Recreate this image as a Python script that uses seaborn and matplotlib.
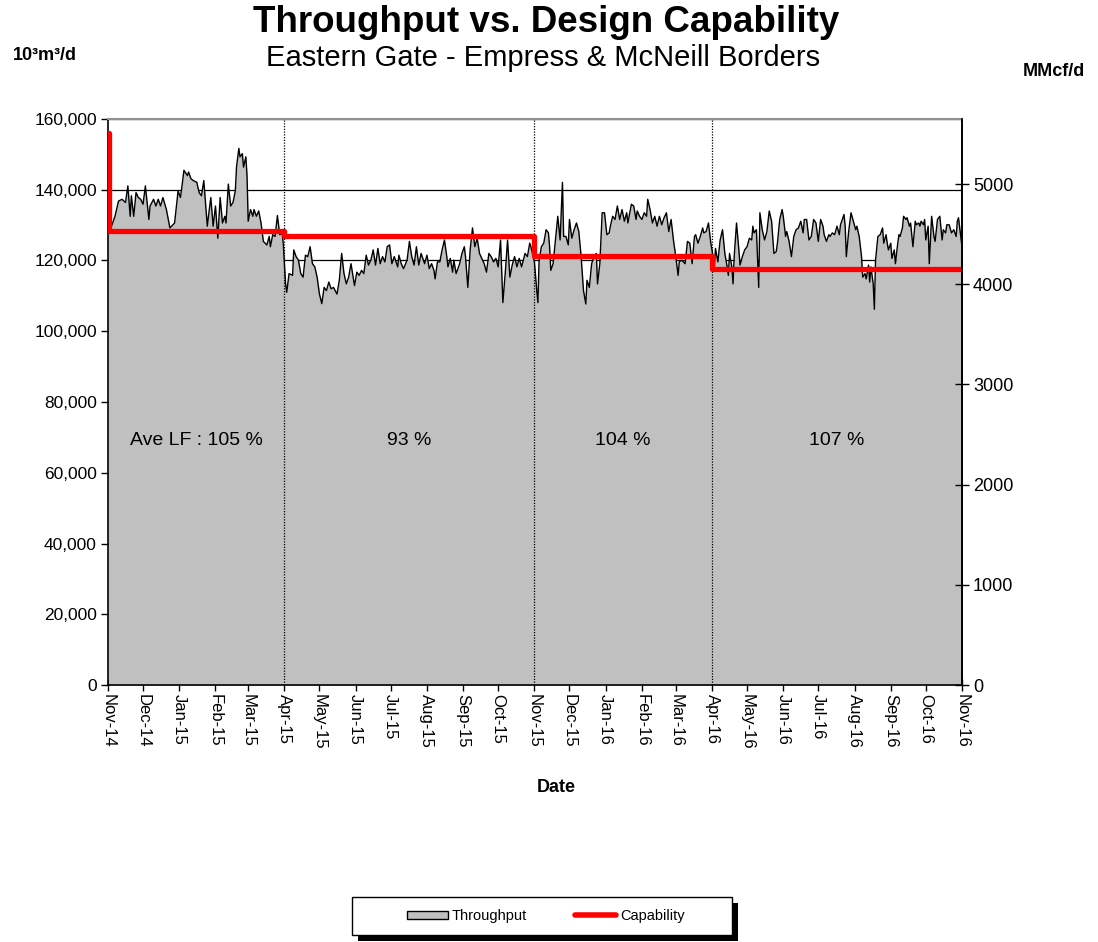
import pandas as pd
import matplotlib
matplotlib.use('Agg')
import matplotlib.pyplot as plt
import matplotlib.dates as mdates
import matplotlib.ticker as mticker
from matplotlib.patches import Patch, Rectangle
from matplotlib.lines import Line2D
import seaborn as sns

# Daily throughput (10^3 m3/d); day 0 = 1 Nov 2014
start = pd.Timestamp('2014-11-01')

days = [0, 3, 6, 9, 12, 15, 17, 19, 20, 22, 24, 26, 28, 30, 32, 35, 36, 39, 41, 43,
        45, 47, 50, 53, 57, 60, 62, 63, 65, 68, 69, 71, 73, 76, 78, 80, 82, 85, 86, 88,
        90, 92, 94, 96, 98, 100, 101, 103, 105, 107, 109, 110, 112, 113, 115, 116, 118, 119, 120, 122,
        124, 125, 127, 129, 131, 133, 136, 138, 139, 141, 143, 145, 147, 149, 150, 152, 153, 155,
        158, 159, 161, 163, 165, 167, 169, 171, 173, 175, 177, 179, 181, 183, 185, 187, 189, 191, 193, 196,
        198, 200, 202, 204, 206, 208, 211, 213, 215, 217, 219, 221, 223, 225, 227, 229, 231, 233, 235, 237,
        239, 241, 243, 245, 248, 249, 251, 253, 256, 258, 260, 262, 264, 266, 268, 271, 273, 275, 277, 279,
        280, 282, 284, 286, 288, 290, 291, 293, 295, 296, 298, 301, 303, 305, 306, 308, 310, 312, 314, 316, 318,
        322, 324, 326, 328, 330, 332, 334, 336, 338, 340, 342, 344, 346, 348, 350, 352, 354, 357, 359, 361,
        362, 364, 365, 367, 368, 369, 371, 373, 375, 377, 378, 379, 381, 383, 385, 387, 389, 390, 392, 394,
        395, 397, 399, 401, 403, 405, 407, 409, 410, 412, 414, 416, 418, 419, 421, 423, 425, 427, 429, 430,
        432, 434, 436, 438, 440, 442, 444, 445, 448, 450, 452, 453, 455, 457, 459, 461, 462, 464, 466, 468,
        470, 472, 474, 476, 478, 480, 482,
        484, 486, 488, 489, 491, 494, 496, 498, 500, 502, 503, 505, 507, 509, 510, 512, 514, 516, 517, 519,
        520, 522, 524, 526, 528, 530, 531, 532, 534, 535, 536, 538, 540, 541, 543, 545, 547, 549, 551, 552,
        553, 555, 557, 558, 560, 562, 564, 566, 568, 570, 572, 573, 575, 577, 578, 580, 581, 583, 585, 587,
        589, 591, 593, 595, 596, 598, 600, 602, 604, 606, 608, 610, 612, 613, 615, 617, 618, 620, 622, 624,
        626, 627,
        630, 631, 632, 634, 636, 638, 640, 641, 643, 645, 646, 648, 649, 651, 652, 653, 655, 656, 657, 659,
        661, 663, 664, 666, 667, 668, 670, 671, 673, 674, 676, 677, 678, 680, 681, 683, 684, 686, 687, 689,
        691, 692, 694, 695, 696, 698, 699, 700, 702, 703, 705, 707, 708, 710, 712, 714, 715, 717, 718, 720,
        722, 724, 726, 727, 728, 730, 731]

throughput = [129000, 129700, 132500, 136800, 137300, 136400, 141100, 132500, 138300, 132500,
              139200, 137800, 137300, 135900, 141100, 131600, 135400, 137300, 135400, 137300,
              135400, 137800, 134400, 129200, 130600, 139700, 137800, 140200, 145500, 144000,
              145000, 143100, 142600, 142100, 139200, 138300, 142600, 129700, 132500, 137800,
              129700, 135400, 126300, 137800, 130600, 132500, 130600, 141600, 135400, 136400,
              139700, 146400, 151700, 149300, 150200, 146400, 149300, 144000, 131100, 134400,
              132500, 134400, 132500, 134000, 130600, 125400, 124400, 126800, 123900, 127300,
              126800, 132700, 127300, 127800, 124900, 113400, 111000, 116300,
              115800, 123000, 121100, 120100, 116300, 115300, 121500, 121100, 123900, 119100,
              118200, 115300, 110500, 107800, 112400, 111500, 113900, 112000, 112400, 110500,
              114400, 122000, 116300, 113400, 115300, 119100, 112900, 116700, 115800, 117200,
              116300, 121500, 118700, 120100, 123000, 118700, 123400, 119100, 121100, 119600,
              123900, 124400, 119100, 121100, 118200, 121500, 119100, 117700, 120100, 125400,
              121100, 118700, 123900, 118700, 122000, 119100, 121500, 117700, 119100, 117200,
              114800, 119600, 119600, 123000, 125800, 121100, 118200, 120600, 116700, 120100,
              116300, 119100, 122000, 123900, 121100, 112400, 123000, 129200, 123900, 126300, 122000,
              119100, 116700, 122000, 121100, 119600, 120600, 118200, 125800, 108100, 116300,
              125800, 115300, 118700, 121100, 118200, 120600, 118200, 122000, 121100, 124900,
              123900, 121100, 119600, 111500, 108100, 120100, 123900, 124900, 128700, 127800,
              123900, 117200, 119100, 125800, 132500, 125800, 142100, 126800, 126800, 124400,
              131600, 126300, 128700, 130600, 128200, 121100, 111500, 107700, 114400, 112400,
              119100, 121100, 122000, 113400, 119100, 133500, 133500, 127300, 127800, 129700,
              132500, 131600, 135400, 131600, 134400, 131100, 133500, 130600, 135900, 135400,
              131600, 134000, 132500, 131600, 133500, 132500, 137300, 134400, 130600, 132500,
              129700, 132500, 130100, 132100, 133500, 128200, 131600,
              125800, 121100, 115800, 119600, 120100, 119100, 125400, 124900, 119100, 126800,
              127300, 124900, 126800, 129200, 127800, 128200, 130600, 124900, 123000, 118200,
              123400, 119600, 125800, 128700, 122000, 118200, 115800, 122000, 118200, 113400,
              121100, 130600, 123000, 118700, 121100, 123000, 123900, 126300, 125800, 129700,
              127800, 128700, 112400, 133500, 128700, 125800, 128200, 134000, 131100, 122000,
              122500, 124900, 131600, 134400, 132500, 126800, 128200, 125400, 121100, 126800,
              128700, 129200, 131100, 127800, 131600, 131600, 125800, 126800, 131600, 130600,
              125400, 131600, 129700, 127300, 125400, 127300, 126800, 127800, 127300, 129700,
              127300, 130100,
              133000, 129700, 121100, 128200, 133500, 131100, 128700, 129700, 126800, 121100,
              115300, 116300, 114800, 118700, 113900, 118200, 113400, 106200, 120100, 126800,
              127300, 129200, 124900, 127300, 124900, 123000, 124900, 120600, 123000, 119100,
              124900, 127300, 126800, 129200, 132500, 131600, 132100, 129700, 130600, 123900,
              131100, 130100, 130600, 129700, 131100, 130100, 131600, 125800, 129700, 119100,
              132500, 126800, 125400, 131600, 132500, 125800, 128700, 127800, 130100, 130100,
              127800, 128700, 126800, 131100, 132100, 126800, 123900]

# Design capability, stepped (start day of each level)
cap_days = [0, 1, 151, 365, 517, 731]
capability = [156100, 128400, 127000, 121300, 117700, 117700]

# Load-factor periods
period_bounds = ['2014-11-01', '2015-04-01', '2015-11-01', '2016-04-01', '2016-11-01']
lf_labels = ['Ave LF : 105 %', '93 %', '104 %', '107 %']

M3_PER_MMCF = 28.3168  # 10^3 m3 per MMcf

assert len(days) == len(throughput)

sns.set_theme(style='white')
plt.rcParams['font.family'] = ['Liberation Sans', 'DejaVu Sans']
plt.rcParams.update({'text.color': 'black', 'axes.labelcolor': 'black',
                     'xtick.color': 'black', 'ytick.color': 'black'})

df = pd.DataFrame({'Date': start + pd.to_timedelta(days, unit='D'),
                   'Throughput': throughput})
cap = pd.DataFrame({'Date': start + pd.to_timedelta(cap_days, unit='D'),
                    'Capability': capability})

fig = plt.figure(figsize=(10.98, 9.42), dpi=100)
ax = fig.add_axes([108 / 1098, 1 - 685 / 942, 854 / 1098, 566 / 942])

# area + outline
ax.fill_between(df['Date'], df['Throughput'], color='#c0c0c0', lw=0, zorder=1)
sns.lineplot(data=df, x='Date', y='Throughput', ax=ax, color='black', lw=1.0, zorder=2)
sns.lineplot(data=cap, x='Date', y='Capability', ax=ax, color='#ff0000', lw=3.8,
             drawstyle='steps-post', zorder=4)

bounds = pd.to_datetime(period_bounds)
for b in bounds[1:-1]:
    ax.axvline(b, color='black', ls=(0, (1, 1.2)), lw=0.9, zorder=3)

for i, lab in enumerate(lf_labels):
    mid = bounds[i] + (bounds[i + 1] - bounds[i]) / 2
    ax.text(mid, 69000, lab, ha='center', va='center', fontsize=14, zorder=5)

ax.set_xlim(bounds[0], bounds[-1])
ax.set_ylim(0, 160000)
ax.set_yticks(range(0, 160001, 20000))
ax.yaxis.set_major_formatter(mticker.StrMethodFormatter('{x:,.0f}'))
ax.xaxis.set_major_locator(mdates.MonthLocator())
ax.xaxis.set_major_formatter(mdates.DateFormatter('%b-%y'))
ax.set_xlabel('')
ax.set_ylabel('')

ax.yaxis.grid(True, color='black', lw=0.9)
ax.xaxis.grid(False)
ax.set_axisbelow(True)

ax.tick_params(axis='y', left=True, direction='out', length=5, width=1,
               color='black', labelsize=12.5, pad=3)
ax.tick_params(axis='x', bottom=True, direction='inout', length=9, width=1,
               color='black', labelsize=12, labelrotation=-90, pad=2)
for t in ax.get_xticklabels():
    t.set_ha('center')
    t.set_va('top')

for s in ['left', 'bottom']:
    ax.spines[s].set_color('black')
    ax.spines[s].set_linewidth(1.2)
ax.spines['top'].set_color('#909090')
ax.spines['top'].set_linewidth(1.5)
ax.spines['right'].set_color('black')

ax2 = ax.twinx()
ax2.set_ylim(0, 160000 / M3_PER_MMCF)
ax2.set_yticks(range(0, 5001, 1000))
ax2.grid(False)
ax2.tick_params(axis='y', right=True, direction='inout', length=10, width=1,
                color='black', labelsize=13, pad=3)
ax2.spines['right'].set_color('black')
ax2.spines['right'].set_linewidth(1.2)
ax2.spines['top'].set_visible(False)
ax2.spines['left'].set_visible(False)
ax2.spines['bottom'].set_visible(False)

# titles and axis units
fig.text(546 / 1098, 1 - 22 / 942, 'Throughput vs. Design Capability',
         ha='center', va='center', fontsize=26.5, fontweight='bold')
fig.text(543 / 1098, 1 - 58 / 942, 'Eastern Gate - Empress & McNeill Borders',
         ha='center', va='center', fontsize=21)
fig.text(45 / 1098, 1 - 55 / 942, '10³m³/d', ha='center', va='center',
         fontsize=13, fontweight='bold')
fig.text(1054 / 1098, 1 - 72 / 942, 'MMcf/d', ha='center', va='center',
         fontsize=13, fontweight='bold')
fig.text(556 / 1098, 1 - 788 / 942, 'Date', ha='center', va='center',
         fontsize=13, fontweight='bold')

# legend box with hard shadow
fig.patches.append(Rectangle((358 / 1098, 1 - 941 / 942), 380 / 1098, 38 / 942,
                             transform=fig.transFigure, facecolor='black',
                             edgecolor='none', zorder=1))
fig.patches.append(Rectangle((352 / 1098, 1 - 935 / 942), 380 / 1098, 38 / 942,
                             transform=fig.transFigure, facecolor='white',
                             edgecolor='black', lw=1, zorder=2))
handles = [Patch(facecolor='#c0c0c0', edgecolor='black', lw=1),
           Line2D([], [], color='#ff0000', lw=4)]
leg = fig.legend(handles, ['Throughput', 'Capability'], loc='center',
                 bbox_to_anchor=(546 / 1098, 1 - 916 / 942), ncol=2, frameon=False,
                 fontsize=10.5, handlelength=2.8, handleheight=0.5,
                 handletextpad=0.3, columnspacing=3.3)
leg.set_zorder(5)

fig.savefig('out.png', dpi=100)
